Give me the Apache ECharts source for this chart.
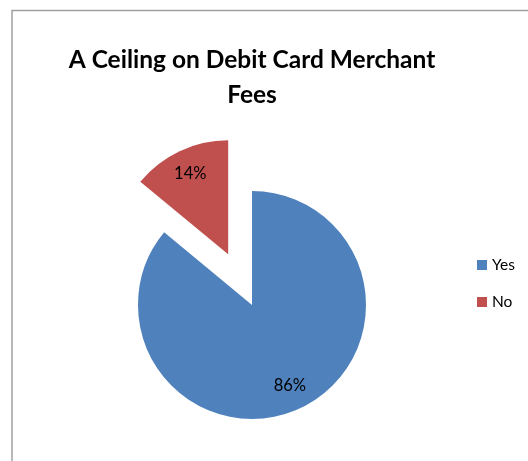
<!DOCTYPE html>
<html>
<head>
<meta charset="utf-8">
<script src="https://cdn.jsdelivr.net/npm/echarts@6/dist/echarts.min.js"></script>
<style>
html,body{margin:0;padding:0;background:#fff;}
#chart{width:528px;height:461px;}
</style>
</head>
<body>
<div id="chart"></div>
<script>
const titleText = 'A Ceiling on Debit Card Merchant\nFees';
const categories = ['Yes', 'No'];
const values = [86, 14];
const colors = ['#4F81BD', '#C0504D'];
const explodedCategory = 'No';

const chart = echarts.init(document.getElementById('chart'), null, {renderer: 'canvas'});

const baseData = categories.map((c, i) => ({
  name: c,
  value: values[i],
  selected: c === explodedCategory,
  itemStyle: {color: colors[i]}
}));

const option = {
  animation: false,
  backgroundColor: '#fff',
  title: {
    text: titleText,
    left: 252,
    textAlign: 'center',
    top: 43,
    padding: 0,
    textStyle: {
      fontFamily: 'Lato',
      fontWeight: 'bold',
      fontSize: 24.5,
      lineHeight: 35,
      color: '#000'
    }
  },
  legend: {
    orient: 'vertical',
    left: 477,
    top: 257,
    padding: 0,
    itemWidth: 10,
    itemHeight: 10,
    itemGap: 21,
    icon: 'rect',
    selectedMode: false,
    data: categories,
    textStyle: {fontFamily: 'Lato', fontSize: 15.5, color: '#000'}
  },
  graphic: [{
    type: 'rect',
    shape: {x: 12, y: 10.5, width: 700, height: 700},
    style: {fill: 'none', stroke: '#a0a0a0', lineWidth: 1.5},
    silent: true
  }],
  series: [{
    type: 'pie',
    center: [252, 305],
    radius: [0, 114],
    startAngle: 90,
    clockwise: true,
    selectedMode: 'multiple',
    selectedOffset: 56,
    label: {show: false},
    labelLine: {show: false},
    emphasis: {disabled: true},
    data: baseData
  }, {
    type: 'pie',
    center: [252, 305],
    radius: [58, 114],
    startAngle: 90,
    clockwise: true,
    selectedMode: 'multiple',
    selectedOffset: 56,
    silent: true,
    itemStyle: {color: 'rgba(0,0,0,0)'},
    label: {
      show: true,
      position: 'inside',
      formatter: '{d}%',
      fontFamily: 'Lato',
      fontSize: 16.5,
      color: '#000'
    },
    labelLine: {show: false},
    emphasis: {disabled: true},
    data: categories.map((c, i) => ({
      name: c,
      value: values[i],
      selected: c === explodedCategory,
      itemStyle: {color: 'rgba(0,0,0,0)'}
    }))
  }]
};
chart.setOption(option);
</script>
</body>
</html>
